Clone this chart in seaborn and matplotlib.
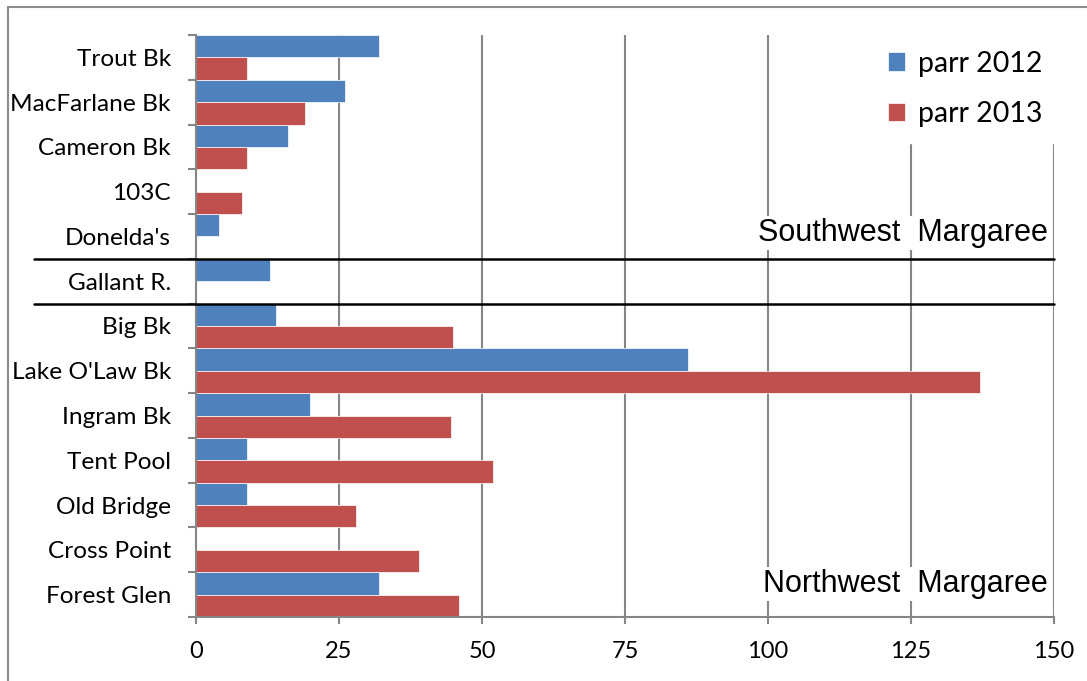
import matplotlib
matplotlib.use("Agg")
import matplotlib.pyplot as plt
import matplotlib.transforms as mtransforms
from matplotlib.patches import Rectangle
import numpy as np
import pandas as pd
import seaborn as sns

# Parr counts per site, top to bottom
sites = ["Trout Bk", "MacFarlane Bk", "Cameron Bk", "103C", "Donelda's",
         "Gallant R.", "Big Bk", "Lake O'Law Bk", "Ingram Bk", "Tent Pool",
         "Old Bridge", "Cross Point", "Forest Glen"]
parr_2012 = [32, 26, 16, np.nan, 4, 13, 14, 86, 20, 9, 9, np.nan, 32]
parr_2013 = [9, 19, 9, 8, np.nan, np.nan, 45, 137, 44.5, 52, 28, 39, 46]
series_names = ["parr 2012", "parr 2013"]
x_ticks = [0, 25, 50, 75, 100, 125, 150]

df = pd.DataFrame({
    "site": sites * 2,
    "count": parr_2012 + parr_2013,
    "series": [series_names[0]] * len(sites) + [series_names[1]] * len(sites),
})

sns.set_theme(style="white")
plt.rcParams["font.family"] = ["Lato", "DejaVu Sans"]
plt.rcParams["text.color"] = "black"

fig = plt.figure(figsize=(10.87, 6.81), dpi=100)
ax = fig.add_axes([196 / 1087, 1 - 617 / 681, 858 / 1087, 582 / 681])

grid_col = "#868686"
sns.barplot(data=df, y="site", x="count", hue="series", order=sites,
            hue_order=series_names, palette=["#4F81BD", "#C0504D"],
            orient="h", width=1.0, errorbar=None, saturation=1,
            edgecolor="#ffffff", linewidth=0.5, ax=ax, zorder=3)

ax.set_xlim(0, 150)
ax.set_ylim(len(sites) - 0.5, -0.5)
ax.set_xticks(x_ticks)
ax.set_xticklabels([str(t) for t in x_ticks])
ax.set_xlabel("")
ax.set_ylabel("")

# vertical gridlines
for t in x_ticks[1:]:
    ax.axvline(t, color=grid_col, lw=1.5, zorder=1)

for side in ["top", "right"]:
    ax.spines[side].set_visible(False)
for side in ["left", "bottom"]:
    ax.spines[side].set_color(grid_col)
    ax.spines[side].set_linewidth(1.5)
    ax.spines[side].set_zorder(4)

ax.tick_params(axis="x", which="major", direction="out", length=5, width=1.5,
               color=grid_col, labelsize=17, pad=12, bottom=True)
ax.tick_params(axis="y", which="major", length=0, labelsize=17.6, pad=18)
ax.set_yticks(np.arange(len(sites) + 1) - 0.5, minor=True)
ax.tick_params(axis="y", which="minor", direction="out", length=6, width=1.5,
               color=grid_col, left=True)
for lab in ax.get_xticklabels() + ax.get_yticklabels():
    lab.set_color("#000000")

# separators around Gallant R.
trans = mtransforms.blended_transform_factory(ax.transAxes, ax.transData)
for yb in [4.5, 5.5]:
    ax.plot([-0.189, 1.0], [yb, yb], color="black", lw=1.8,
            transform=trans, clip_on=False, zorder=5)

# river labels
box = dict(facecolor="white", edgecolor="none", pad=1.5)
ax.text(148.9, 3.93, "Southwest  Margaree", ha="right", va="center",
        fontsize=22, family="Liberation Sans", color="black", bbox=box, zorder=6)
ax.text(148.9, 11.76, "Northwest  Margaree", ha="right", va="center",
        fontsize=22, family="Liberation Sans", color="black", bbox=box, zorder=6)

# legend
handles, labels = ax.get_legend_handles_labels()
leg = ax.legend(handles, labels, loc="upper right", bbox_to_anchor=(1.005, 1.0),
                frameon=True, fontsize=20.5, handlelength=0.62, handleheight=0.62,
                handletextpad=0.45, labelspacing=0.85, borderpad=0.55,
                borderaxespad=0.0, fancybox=False)
leg.get_frame().set_edgecolor("white")
leg.get_frame().set_facecolor("white")
leg.get_frame().set_alpha(1.0)
leg.set_zorder(7)
for txt in leg.get_texts():
    txt.set_color("black")

# outer chart border
fig.patches.append(Rectangle((8 / 1087, -0.05), 1.2, 1 - 7 / 681 + 0.05,
                             transform=fig.transFigure, fill=False,
                             edgecolor="#8c8c8c", lw=1.5))

fig.savefig("out.png", dpi=100, facecolor="white")
